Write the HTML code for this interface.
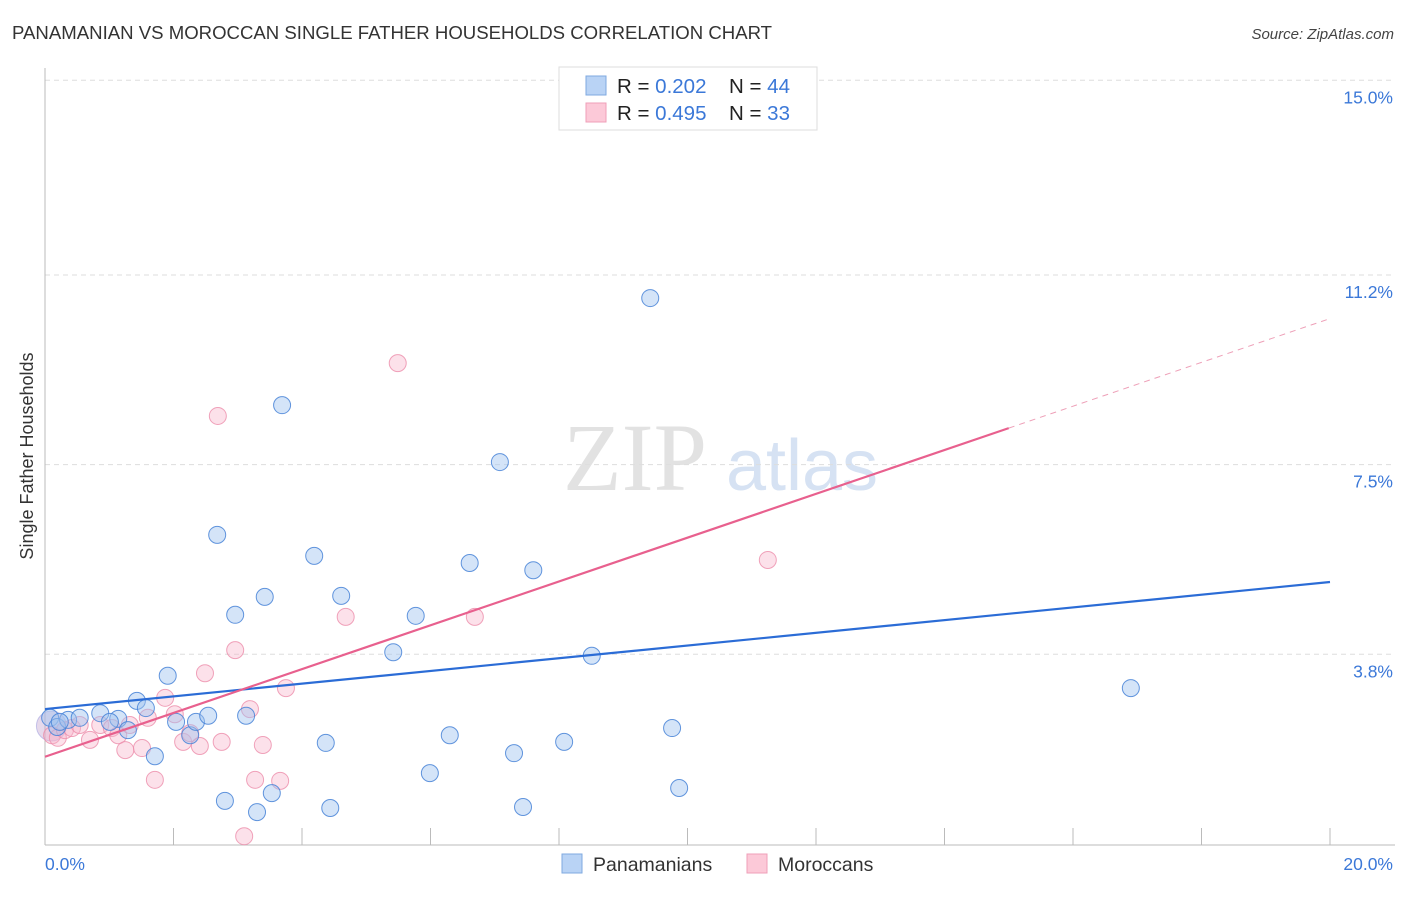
<!DOCTYPE html>
<html><head><meta charset="utf-8"><style>
body{margin:0;background:#fff;font-family:"Liberation Sans",sans-serif;}
</style></head><body>
<svg id="chart" width="1406" height="892" viewBox="0 0 1406 892" xmlns="http://www.w3.org/2000/svg" font-family="Liberation Sans, sans-serif">
<text x="12" y="39" font-size="18.6" fill="#333">PANAMANIAN VS MOROCCAN SINGLE FATHER HOUSEHOLDS CORRELATION CHART</text>
<text x="1394" y="39" font-size="15" font-style="italic" fill="#444" text-anchor="end">Source: ZipAtlas.com</text>
<g>
<text x="635" y="490" font-size="96" font-family="Liberation Serif, serif" fill="#e2e2e2" text-anchor="middle">ZIP</text>
<text x="802" y="490" font-size="72" fill="#d6e2f3" text-anchor="middle">atlas</text>
</g>
<g id="grid"></g>
<g id="axes"></g>
<text transform="translate(33,456) rotate(-90)" font-size="18" fill="#333" text-anchor="middle">Single Father Households</text>
<g id="pts"></g>
<g id="lines"></g>
<g>
<rect x="559" y="67" width="258" height="63" fill="#fff" stroke="#ddd"/>
<rect x="586" y="76" width="20" height="19" fill="#b9d3f5" stroke="#7fa9e0"/>
<rect x="586" y="103" width="20" height="19" fill="#fcc9d8" stroke="#ef9fb8"/>
<text x="617" y="93" font-size="20.5" fill="#222">R = <tspan fill="#3b78d8">0.202</tspan></text>
<text x="729" y="93" font-size="20.5" fill="#222">N = <tspan fill="#3b78d8">44</tspan></text>
<text x="617" y="120" font-size="20.5" fill="#222">R = <tspan fill="#3b78d8">0.495</tspan></text>
<text x="729" y="120" font-size="20.5" fill="#222">N = <tspan fill="#3b78d8"> 33</tspan></text>
</g>
<g>
<rect x="562" y="854" width="20" height="19" fill="#b9d3f5" stroke="#7fa9e0"/>
<text x="593" y="871" font-size="19.5" fill="#333">Panamanians</text>
<rect x="747" y="854" width="20" height="19" fill="#fcc9d8" stroke="#ef9fb8"/>
<text x="778" y="871" font-size="19.5" fill="#333">Moroccans</text>
</g>
<script>
const xTicks=[0,20];
const yTicks=[3.8,7.5,11.2,15.0];
const yTickLabels=["3.8%","7.5%","11.2%","15.0%"];
const blueX=[0.08,0.19,0.36,0.54,0.86,1.14,1.01,1.29,1.43,1.57,1.71,1.91,2.04,2.26,2.35,2.54,2.68,2.80,2.96,3.13,3.30,3.42,3.53,3.69,4.19,4.37,4.44,4.61,5.42,5.77,5.99,6.30,6.61,7.08,7.30,7.44,7.60,8.08,8.51,9.42,9.76,9.87,16.90,0.23];
const blueY=[2.56,2.38,2.52,2.56,2.65,2.54,2.48,2.32,2.89,2.75,1.81,3.38,2.48,2.22,2.48,2.60,6.13,0.94,4.57,2.60,0.72,4.92,1.09,8.66,5.72,2.07,0.80,4.94,3.84,4.55,1.48,2.22,5.58,7.55,1.87,0.82,5.44,2.09,3.77,10.75,2.36,1.19,3.14,2.48];
const pinkX=[0.11,0.20,0.31,0.42,0.54,0.70,0.86,1.04,1.14,1.25,1.32,1.51,1.60,1.71,1.87,2.02,2.15,2.26,2.41,2.49,2.69,2.75,2.96,3.10,3.19,3.27,3.39,3.66,3.75,4.68,5.49,6.69,11.25];
const pinkY=[2.22,2.17,2.32,2.36,2.42,2.13,2.42,2.36,2.22,1.93,2.42,1.97,2.56,1.35,2.95,2.63,2.09,2.26,2.01,3.43,8.45,2.09,3.88,0.25,2.73,1.35,2.03,1.33,3.14,4.53,9.48,4.53,5.64];
const blueLine=[2.73,5.21];
const pinkLine=[1.80,10.35];
const pinkSolidEnd=15.0;
const X=v=>45+v*64.25, Y=v=>849-v*51.25;
const NS="http://www.w3.org/2000/svg";
function mk(tag,attrs,parent){const e=document.createElementNS(NS,tag);for(const k in attrs)e.setAttribute(k,attrs[k]);parent.appendChild(e);return e;}
const grid=document.getElementById('grid'),axes=document.getElementById('axes'),pts=document.getElementById('pts'),lines=document.getElementById('lines');
yTicks.forEach((t,i)=>{
 const l=mk('line',{x1:45,x2:1395,y1:Y(t),y2:Y(t),stroke:'#ddd','stroke-dasharray':'5,4'},grid);
 
 
 const tx=mk('text',{x:1393,y:Y(t)+23,'font-size':17.5,fill:'#3b78d8','text-anchor':'end'},grid);
 tx.textContent=yTickLabels[i];
 
 
});
mk('line',{x1:45,x2:45,y1:68,y2:845,stroke:'#bbb'},axes);
mk('line',{x1:45,x2:1395,y1:845,y2:845,stroke:'#bbb'},axes);
for(let i=1;i<=10;i++){const x=X(i*2);const t=mk('line',{x1:x,x2:x,y1:828,y2:845,stroke:'#bbb'},axes);
 
 }
xTicks.forEach((t,i)=>{const tx=mk('text',{x:i==0?45:1393,y:870,'font-size':17.5,fill:'#3b78d8','text-anchor':i==0?'start':'end'},axes);
 tx.textContent=t.toFixed(1)+'%';
 
 });
const big=mk('circle',{cx:X(0.1),cy:Y(2.4),r:15,fill:'rgba(200,170,210,0.45)',stroke:'rgba(150,150,220,0.5)'},pts);


pinkX.forEach((x,i)=>{const c=mk('circle',{cx:X(x),cy:Y(pinkY[i]),r:8.5,fill:'rgba(248,180,202,0.4)',stroke:'rgba(236,140,170,0.8)','stroke-width':1},pts);
 
 });
blueX.forEach((x,i)=>{const c=mk('circle',{cx:X(x),cy:Y(blueY[i]),r:8.5,fill:'rgba(160,196,240,0.45)',stroke:'rgba(70,130,215,0.85)','stroke-width':1},pts);
 
 });
const bl=mk('line',{x1:X(0),y1:Y(blueLine[0]),x2:X(20),y2:Y(blueLine[1]),stroke:'#2b6cd6','stroke-width':2.2},lines);


const pe=pinkLine[0]+(pinkLine[1]-pinkLine[0])*pinkSolidEnd/20;
const pl=mk('line',{x1:X(0),y1:Y(pinkLine[0]),x2:X(pinkSolidEnd),y2:Y(pe),stroke:'#e8608e','stroke-width':2.2},lines);


const pd=mk('line',{x1:X(pinkSolidEnd),y1:Y(pe),x2:X(20),y2:Y(pinkLine[1]),stroke:'#eea0b8','stroke-width':1,'stroke-dasharray':'6,5'},lines);


</script>
</svg>
</body></html>
